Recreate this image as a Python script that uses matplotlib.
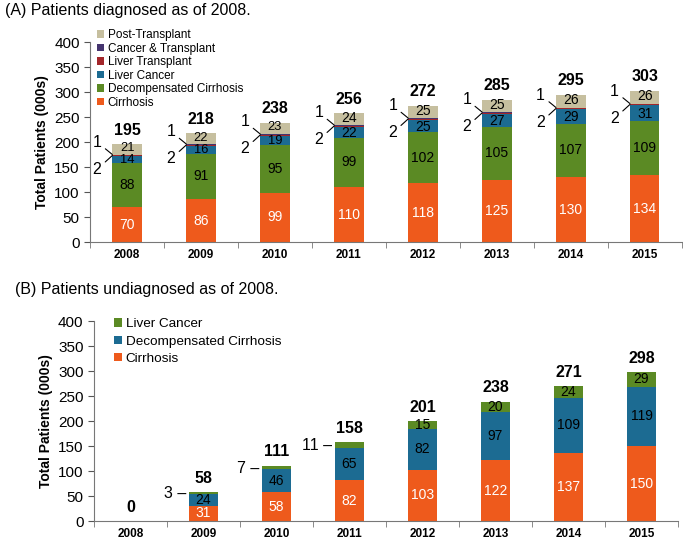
import numpy as np
import matplotlib
matplotlib.use("Agg")
import matplotlib.pyplot as plt

plt.rcParams['font.family'] = ['Liberation Sans', 'DejaVu Sans']

years = ['2008', '2009', '2010', '2011', '2012', '2013', '2014', '2015']

# (A) diagnosed
cirrhosis_a = [70, 86, 99, 110, 118, 125, 130, 134]
decomp_a = [88, 91, 95, 99, 102, 105, 107, 109]
cancer_a = [14, 16, 19, 22, 25, 27, 29, 31]
transplant_a = [2, 2, 2, 2, 2, 2, 2, 2]
canc_trans_a = [1, 1, 1, 1, 1, 1, 1, 1]
post_trans_a = [21, 22, 23, 24, 25, 25, 26, 26]
totals_a = [195, 218, 238, 256, 272, 285, 295, 303]

# (B) undiagnosed
cirrhosis_b = [0, 31, 58, 82, 103, 122, 137, 150]
decomp_b = [0, 24, 46, 65, 82, 97, 109, 119]
cancer_b = [0, 3, 7, 11, 15, 20, 24, 29]
totals_b = [0, 58, 111, 158, 201, 238, 271, 298]

c_orange = '#EE5A1C'
c_green = '#5B8A24'
c_blue = '#1C6B92'
c_red = '#A3262A'
c_purple = '#45346F'
c_tan = '#C6BF9F'

fig = plt.figure(figsize=(6.83, 5.42), dpi=100)
axA = fig.add_axes([0.132, 0.5535, 0.866, 0.369])
axB = fig.add_axes([0.1376, 0.0387, 0.855, 0.369])

x = np.arange(len(years))
w = 0.4
seg_fs = 10
small_fs = 9.3   # labels squeezed in the thin top layers
tot_fs = 11.5


def style_axis(ax):
    ax.set_xlim(-0.5, 7.5)
    ax.set_ylim(0, 400)
    ax.set_yticks(np.arange(0, 401, 50))
    ax.tick_params(axis='y', labelsize=11, length=4, color='#555555')
    ax.set_xticks(x)
    ax.set_xticklabels(years, fontsize=8.5, fontweight='bold')
    ax.tick_params(axis='x', which='major', length=0, pad=5)
    ax.set_xticks(np.arange(-0.5, 8, 1), minor=True)
    ax.tick_params(axis='x', which='minor', length=4, color='#777777', direction='out')
    for s in ['top', 'right']:
        ax.spines[s].set_visible(False)
    ax.spines['left'].set_color('#777777')
    ax.spines['bottom'].set_color('#777777')
    ax.set_ylabel('Total Patients (000s)', fontsize=10, fontweight='bold')


# ---------- panel A
layers_a = [(cirrhosis_a, c_orange, 'Cirrhosis'),
            (decomp_a, c_green, 'Decompensated Cirrhosis'),
            (cancer_a, c_blue, 'Liver Cancer'),
            (transplant_a, c_red, 'Liver Transplant'),
            (canc_trans_a, c_purple, 'Cancer & Transplant'),
            (post_trans_a, c_tan, 'Post-Transplant')]
bottom = np.zeros(len(years))
tops = []
for vals, col, lab in layers_a:
    v = np.array(vals, dtype=float)
    axA.bar(x, v, w, bottom=bottom, color=col, label=lab, linewidth=0)
    bottom = bottom + v
    tops.append(bottom.copy())

for i in range(len(years)):
    axA.text(x[i], cirrhosis_a[i] / 2, str(cirrhosis_a[i]), ha='center', va='center',
             color='white', fontsize=seg_fs)
    b0 = cirrhosis_a[i]
    axA.text(x[i], b0 + decomp_a[i] / 2, str(decomp_a[i]), ha='center', va='center',
             color='black', fontsize=seg_fs)
    b0 += decomp_a[i]
    axA.text(x[i], b0 + cancer_a[i] / 2 - 1.5, str(cancer_a[i]), ha='center', va='center',
             color='black', fontsize=small_fs if cancer_a[i] < 20 else seg_fs)
    b0 = tops[4][i]
    axA.text(x[i], b0 + post_trans_a[i] / 2 + 2, str(post_trans_a[i]), ha='center',
             va='center', color='black', fontsize=small_fs if cancer_a[i] < 20 else seg_fs)
    axA.text(x[i], tops[5][i] + 13, str(totals_a[i]), ha='center', va='bottom',
             fontsize=tot_fs, fontweight='bold')
    # leader labels for the thin layers
    axA.annotate(str(canc_trans_a[i]), xy=(x[i] - w / 2, tops[4][i]), xytext=(-11, 9),
                 textcoords='offset points', ha='center', va='center', fontsize=11.5,
                 arrowprops=dict(arrowstyle='-', lw=0.8, color='black', shrinkA=1, shrinkB=0))
    axA.annotate(str(transplant_a[i]), xy=(x[i] - w / 2, tops[3][i] - 1), xytext=(-11, -10),
                 textcoords='offset points', ha='center', va='center', fontsize=11.5,
                 arrowprops=dict(arrowstyle='-', lw=0.8, color='black', shrinkA=1, shrinkB=0))

style_axis(axA)
h, l = axA.get_legend_handles_labels()
axA.legend(h[::-1], l[::-1], loc='upper left', bbox_to_anchor=(0.0, 1.10), frameon=False,
           fontsize=8.5, handlelength=0.6, handleheight=0.6, handletextpad=0.3,
           labelspacing=0.13, borderaxespad=0.2)

# ---------- panel B
layers_b = [(cirrhosis_b, c_orange, 'Cirrhosis'),
            (decomp_b, c_blue, 'Decompensated Cirrhosis'),
            (cancer_b, c_green, 'Liver Cancer')]
bottom = np.zeros(len(years))
for vals, col, lab in layers_b:
    v = np.array(vals, dtype=float)
    axB.bar(x, v, w, bottom=bottom, color=col, label=lab, linewidth=0)
    bottom = bottom + v

for i in range(len(years)):
    if totals_b[i] > 0:
        axB.text(x[i], cirrhosis_b[i] / 2, str(cirrhosis_b[i]), ha='center', va='center',
                 color='white', fontsize=seg_fs)
        axB.text(x[i], cirrhosis_b[i] + decomp_b[i] / 2, str(decomp_b[i]), ha='center',
                 va='center', color='black', fontsize=seg_fs)
        top_c = cirrhosis_b[i] + decomp_b[i]
        if cancer_b[i] >= 15:
            axB.text(x[i], top_c + cancer_b[i] / 2, str(cancer_b[i]), ha='center',
                     va='center', color='black', fontsize=seg_fs)
        else:
            axB.text(x[i] - w / 2 - 0.04, top_c + cancer_b[i] / 2 - 2,
                     str(cancer_b[i]) + ' \u2013', ha='right', va='center', fontsize=11.5)
    axB.text(x[i], bottom[i] + 13, str(totals_b[i]), ha='center', va='bottom',
             fontsize=tot_fs, fontweight='bold')

style_axis(axB)
h, l = axB.get_legend_handles_labels()
axB.legend(h[::-1], l[::-1], loc='upper left', bbox_to_anchor=(0.02, 1.055), frameon=False,
           fontsize=9.7, handlelength=0.6, handleheight=0.6, handletextpad=0.3,
           labelspacing=0.4, borderaxespad=0.2)

fig.text(0.008, 0.980, '(A) Patients diagnosed as of 2008.', fontsize=11.5, va='center')
fig.text(0.022, 0.465, '(B) Patients undiagnosed as of 2008.', fontsize=11.5, va='center')

fig.savefig('out.png', dpi=100)
